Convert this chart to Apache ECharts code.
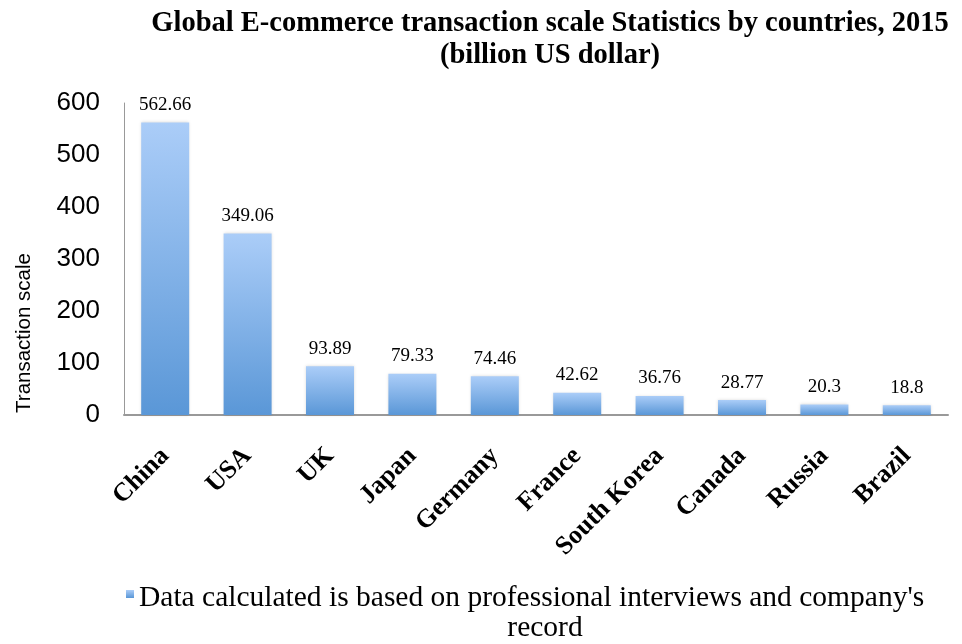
<!DOCTYPE html>
<html>
<head>
<meta charset="utf-8">
<script src="https://cdn.jsdelivr.net/npm/echarts@6/dist/echarts.min.js"></script>
<style>
    html, body { margin: 0; padding: 0; background: #fff; }
    #main { width: 962px; height: 644px; }
</style>
</head>
<body>
<div id="main"></div>
<script>
// 数据
var countries = ['China', 'USA', 'UK', 'Japan', 'Germany', 'France', 'South Korea', 'Canada', 'Russia', 'Brazil'];
var scaleValues = [562.66, 349.06, 93.89, 79.33, 74.46, 42.62, 36.76, 28.77, 20.3, 18.8];
var yTicks = [0, 100, 200, 300, 400, 500, 600];
var seriesName = 'Data calculated is based on professional interviews and company\'s record';

var chart = echarts.init(document.getElementById('main'));

var barColor = new echarts.graphic.LinearGradient(0, 0, 0, 1, [
    {offset: 0, color: '#abcdf8'},
    {offset: 1, color: '#5a97d7'}
]);

// 图例小方块放在第一行文字旁边
var legendColor = new echarts.graphic.LinearGradient(0, 0, 0, 1, [
    {offset: 0, color: '#abcdf8'},
    {offset: 0.17, color: '#5a97d7'},
    {offset: 1, color: '#5a97d7'}
]);

var option = {
    animation: false,
    title: {
        text: 'Global E-commerce transaction scale Statistics by countries, 2015\n(billion US dollar)',
        left: 545,
        top: 3,
        textAlign: 'center',
        textStyle: {
            fontFamily: 'Liberation Serif',
            fontWeight: 'bold',
            fontSize: 28.5,
            lineHeight: 32,
            color: '#000'
        }
    },
    grid: {
        left: 124,
        right: 14,
        top: 103,
        bottom: 229
    },
    legend: {
        top: 578,
        left: 121,
        itemWidth: 8,
        itemHeight: 46,
        itemGap: 5,
        icon: 'path://M0,0L8,0L8,8L0,8Z M0,46L8,46',
        itemStyle: {color: legendColor, shadowBlur: 0, borderWidth: 0},
        data: [seriesName],
        formatter: function () {
            return '{a|Data calculated is based on professional interviews and company\'s}\n{b|record}';
        },
        textStyle: {
            fontFamily: 'Liberation Serif',
            fontSize: 29.5,
            color: '#000',
            rich: {
                a: {fontFamily: 'Liberation Serif', fontSize: 29.5, lineHeight: 30, color: '#000'},
                b: {fontFamily: 'Liberation Serif', fontSize: 29.5, lineHeight: 30, color: '#000', width: 812, align: 'center'}
            }
        }
    },
    xAxis: {
        type: 'category',
        data: countries,
        axisLine: {lineStyle: {color: '#999', width: 2}},
        axisTick: {show: false},
        axisLabel: {
            rotate: 45,
            interval: 0,
            margin: 37,
            fontFamily: 'Liberation Serif',
            fontWeight: 'bold',
            fontSize: 26,
            color: '#000'
        }
    },
    yAxis: {
        type: 'value',
        min: yTicks[0],
        max: yTicks[yTicks.length - 1],
        interval: 100,
        axisLine: {show: true, lineStyle: {color: '#999', width: 1}},
        axisTick: {show: false},
        splitLine: {show: false},
        axisLabel: {
            margin: 24,
            fontFamily: 'Liberation Sans',
            fontSize: 26,
            color: '#000'
        }
    },
    graphic: [{
        type: 'text',
        x: 24,
        y: 333,
        rotation: Math.PI / 2,
        style: {
            text: 'Transaction scale',
            fontFamily: 'Liberation Sans',
            fontSize: 20.5,
            fill: '#000',
            align: 'center',
            verticalAlign: 'middle'
        }
    }],
    series: [{
        name: seriesName,
        type: 'bar',
        data: scaleValues,
        barWidth: 48,
        itemStyle: {
            color: barColor,
            shadowColor: 'rgba(0,0,0,0.15)',
            shadowBlur: 3
        },
        label: {
            show: true,
            position: 'top',
            distance: 8,
            fontFamily: 'Liberation Serif',
            fontSize: 19,
            color: '#000'
        }
    }]
};

chart.setOption(option);
</script>
</body>
</html>
